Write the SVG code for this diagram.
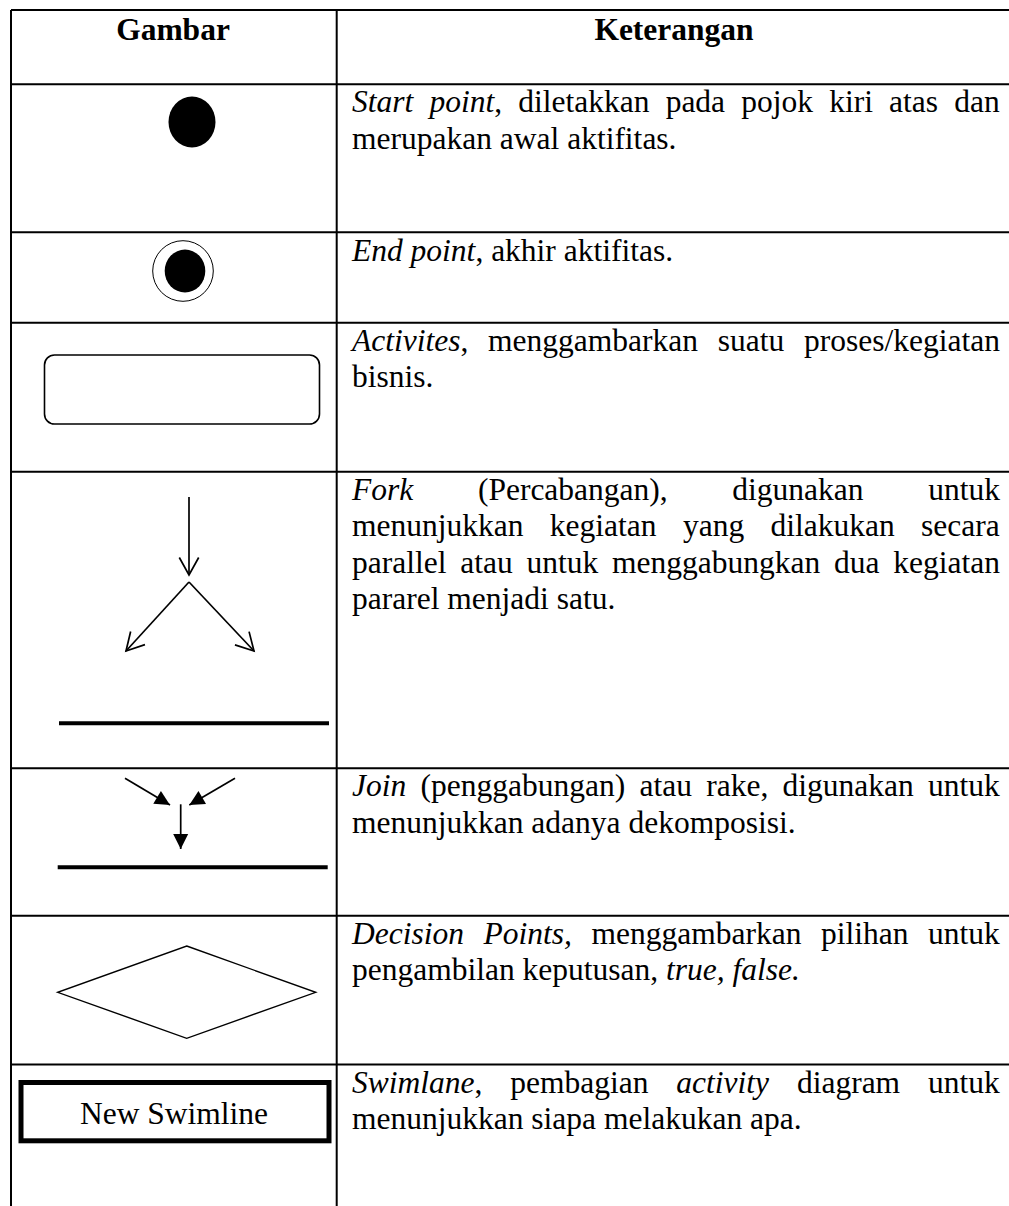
<svg xmlns="http://www.w3.org/2000/svg" width="1009" height="1206" viewBox="0 0 1009 1206">
<style>
.grid{stroke:#000;stroke-width:2;fill:none}
.t{font-family:"Liberation Serif","Times New Roman",serif;font-size:31.5px;fill:#000}
.h{font-weight:bold;text-anchor:middle}
.i{font-style:italic}
.ln{stroke:#000;stroke-width:1.7;fill:none}
.bar{stroke:#000;stroke-width:4;fill:none}
</style>
<defs>
<marker id="open" markerUnits="userSpaceOnUse" viewBox="-20 -12 24 24" markerWidth="24" markerHeight="24" refX="0" refY="0" orient="auto">
<path d="M-17.5,-9.7 L0,0 L-17.5,9.7" fill="none" stroke="#000" stroke-width="1.7"/>
</marker>
<marker id="solid" markerUnits="userSpaceOnUse" viewBox="-18 -10 20 20" markerWidth="20" markerHeight="20" refX="0" refY="0" orient="auto">
<path d="M-15,-7.5 L0,0 L-15,7.5 Z" fill="#000"/>
</marker>
</defs>
<rect width="1009" height="1206" fill="#fff"/>
<g id="table">
<path class="grid" d="M11,10 V1206 M336.7,10 V1206 M11,10 H1009 M11,84.3 H1009 M11,232.3 H1009 M11,322.7 H1009 M11,471.7 H1009 M11,768.3 H1009 M11,915.7 H1009 M11,1064.5 H1009"/>
<text class="t h" x="173" y="40">Gambar</text>
<text class="t h" x="674" y="40">Keterangan</text>
</g>
<g id="start-point">
<ellipse cx="192" cy="122" rx="23.5" ry="25.5" fill="#000"/>
<text class="t" x="352" y="112.3" style="word-spacing:8.3px"><tspan class="i">Start point</tspan>, diletakkan pada pojok kiri atas dan</text>
<text class="t" x="352" y="148.8">merupakan awal aktifitas.</text>
</g>
<g id="end-point">
<circle cx="183" cy="271" r="30.3" fill="none" stroke="#000" stroke-width="1"/>
<ellipse cx="185" cy="271" rx="20.3" ry="21.5" fill="#000"/>
<text class="t" x="352" y="260.5"><tspan class="i">End point</tspan>, akhir aktifitas.</text>
</g>
<g id="activities">
<rect x="44.5" y="355" width="275" height="69" rx="10" fill="none" stroke="#000" stroke-width="1.6"/>
<text class="t" x="352" y="350.7" style="word-spacing:11.9px"><tspan class="i">Activites</tspan>, menggambarkan suatu proses/kegiatan</text>
<text class="t" x="352" y="387.2">bisnis.</text>
</g>
<g id="fork">
<line class="bar" x1="59" y1="723.3" x2="329" y2="723.3"/>
<text class="t" x="352" y="499.7" style="word-spacing:56.8px"><tspan class="i">Fork</tspan> (Percabangan), digunakan untuk</text>
<text class="t" x="352" y="536.2" style="word-spacing:18.5px">menunjukkan kegiatan yang dilakukan secara</text>
<text class="t" x="352" y="572.7" style="word-spacing:5.9px">parallel atau untuk menggabungkan dua kegiatan</text>
<text class="t" x="352" y="609.2">pararel menjadi satu.</text>
</g>
<g id="join">
<line class="bar" x1="57.7" y1="867.3" x2="327.7" y2="867.3"/>
<text class="t" x="352" y="796.3" style="word-spacing:6.4px"><tspan class="i">Join</tspan> (penggabungan) atau rake, digunakan untuk</text>
<text class="t" x="352" y="832.8">menunjukkan adanya dekomposisi.</text>
</g>
<g id="decision">
<polygon points="186.7,946 315.7,992.3 186.7,1038.3 57.7,992.3" fill="none" stroke="#000" stroke-width="1.4"/>
<text class="t" x="352" y="943.7" style="word-spacing:11.7px"><tspan class="i">Decision Points,</tspan> menggambarkan pilihan untuk</text>
<text class="t" x="352" y="980.2">pengambilan keputusan, <tspan class="i">true, false.</tspan></text>
</g>
<g id="swimlane">
<rect x="21" y="1082.5" width="308" height="58.3" fill="none" stroke="#000" stroke-width="5"/>
<text class="t" x="174" y="1124" text-anchor="middle">New Swimline</text>
<text class="t" x="352" y="1092.5" style="word-spacing:20px"><tspan class="i">Swimlane</tspan>, pembagian <tspan class="i">activity</tspan> diagram untuk</text>
<text class="t" x="352" y="1129">menunjukkan siapa melakukan apa.</text>
</g>
<g id="connectors">
<line class="ln" x1="189" y1="497" x2="189" y2="575" marker-end="url(#open)"/>
<line class="ln" x1="189" y1="582" x2="126" y2="651" marker-end="url(#open)"/>
<line class="ln" x1="189" y1="582" x2="254" y2="651" marker-end="url(#open)"/>
<line class="ln" x1="125" y1="778.3" x2="170" y2="805" marker-end="url(#solid)"/>
<line class="ln" x1="235" y1="778.3" x2="189.3" y2="805" marker-end="url(#solid)"/>
<line class="ln" x1="180.7" y1="804.3" x2="180.7" y2="849" marker-end="url(#solid)"/>
</g>
</svg>
